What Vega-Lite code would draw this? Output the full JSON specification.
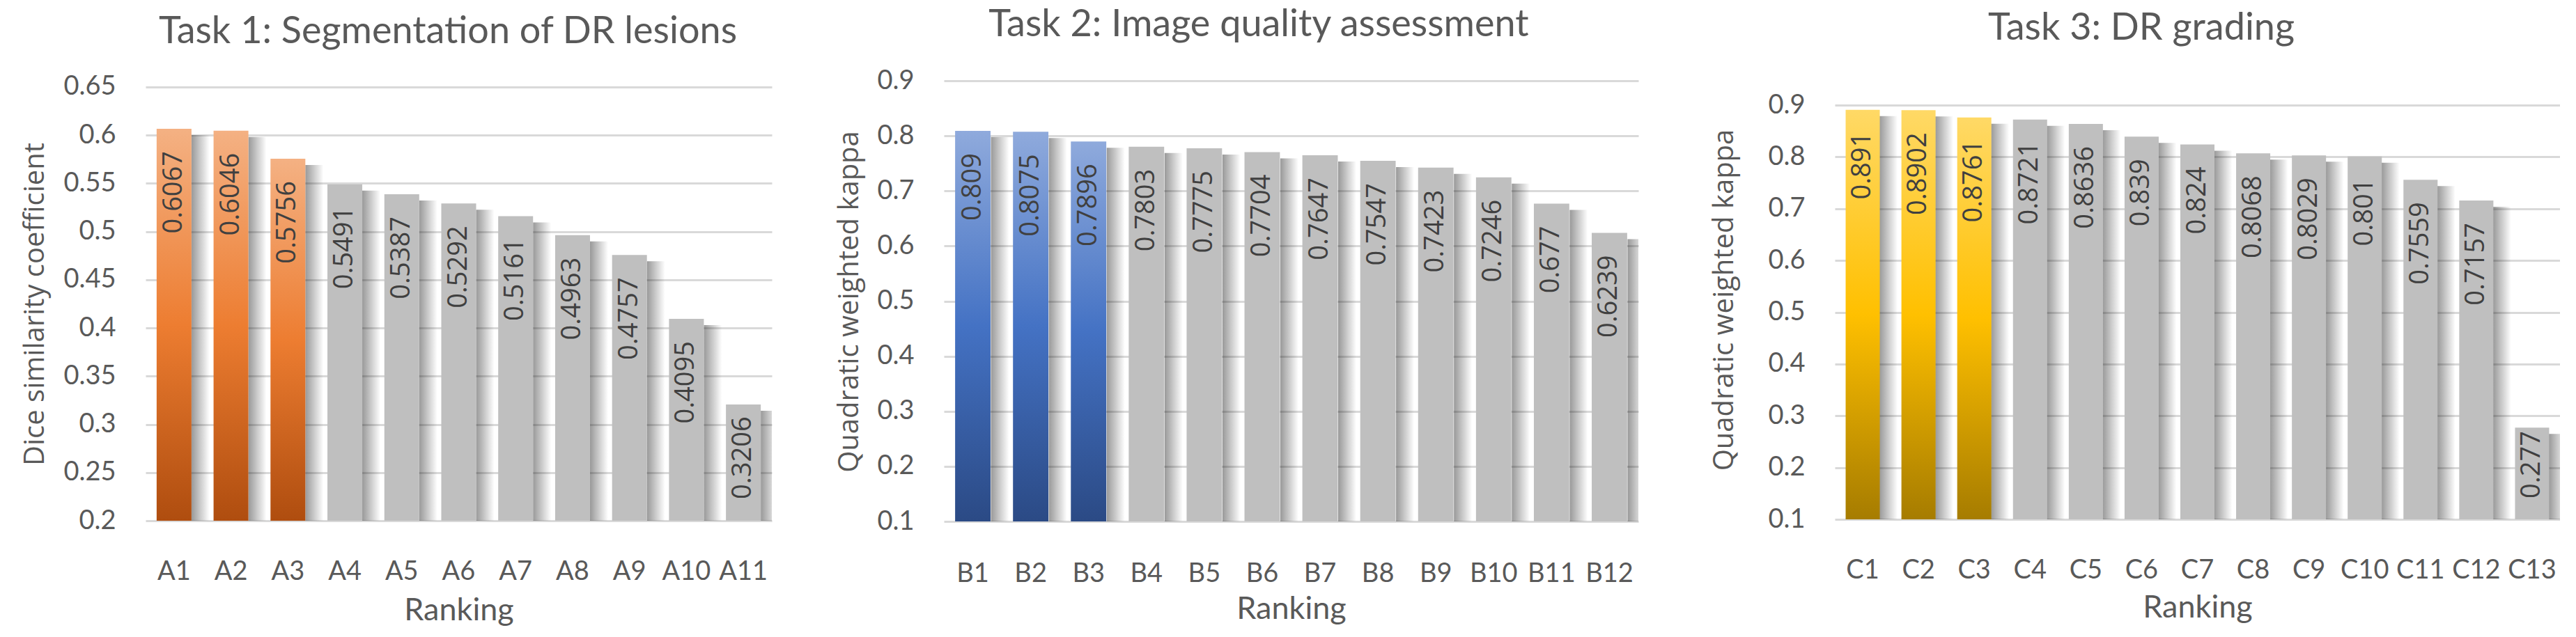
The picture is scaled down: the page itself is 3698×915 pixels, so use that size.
{
  "$schema": "https://vega.github.io/schema/vega-lite/v6.json",
  "background": "white",
  "padding": {"left": 30, "top": 9, "right": 0, "bottom": 0},
  "bounds": "flush",
  "spacing": 0,
  "datasets": {
    "t1": [
      {"team": "A1", "score": 0.6067, "rank": 1},
      {"team": "A2", "score": 0.6046, "rank": 2},
      {"team": "A3", "score": 0.5756, "rank": 3},
      {"team": "A4", "score": 0.5491, "rank": 4},
      {"team": "A5", "score": 0.5387, "rank": 5},
      {"team": "A6", "score": 0.5292, "rank": 6},
      {"team": "A7", "score": 0.5161, "rank": 7},
      {"team": "A8", "score": 0.4963, "rank": 8},
      {"team": "A9", "score": 0.4757, "rank": 9},
      {"team": "A10", "score": 0.4095, "rank": 10},
      {"team": "A11", "score": 0.3206, "rank": 11}
    ],
    "t2": [
      {"team": "B1", "score": 0.809, "rank": 1},
      {"team": "B2", "score": 0.8075, "rank": 2},
      {"team": "B3", "score": 0.7896, "rank": 3},
      {"team": "B4", "score": 0.7803, "rank": 4},
      {"team": "B5", "score": 0.7775, "rank": 5},
      {"team": "B6", "score": 0.7704, "rank": 6},
      {"team": "B7", "score": 0.7647, "rank": 7},
      {"team": "B8", "score": 0.7547, "rank": 8},
      {"team": "B9", "score": 0.7423, "rank": 9},
      {"team": "B10", "score": 0.7246, "rank": 10},
      {"team": "B11", "score": 0.677, "rank": 11},
      {"team": "B12", "score": 0.6239, "rank": 12}
    ],
    "t3": [
      {"team": "C1", "score": 0.891, "rank": 1},
      {"team": "C2", "score": 0.8902, "rank": 2},
      {"team": "C3", "score": 0.8761, "rank": 3},
      {"team": "C4", "score": 0.8721, "rank": 4},
      {"team": "C5", "score": 0.8636, "rank": 5},
      {"team": "C6", "score": 0.839, "rank": 6},
      {"team": "C7", "score": 0.824, "rank": 7},
      {"team": "C8", "score": 0.8068, "rank": 8},
      {"team": "C9", "score": 0.8029, "rank": 9},
      {"team": "C10", "score": 0.801, "rank": 10},
      {"team": "C11", "score": 0.7559, "rank": 11},
      {"team": "C12", "score": 0.7157, "rank": 12},
      {"team": "C13", "score": 0.277, "rank": 13}
    ]
  },
  "hconcat": [
    {
      "width": 899,
      "height": 633,
      "title": {"text": "Task 1: Segmentation of DR lesions", "anchor": "middle", "frame": "group", "dx": -15.5, "baseline": "alphabetic", "offset": -10},
      "data": {"name": "t1"},
      "encoding": {
        "x": {"field": "team", "type": "nominal", "sort": null,
              "scale": {"paddingInner": 0.388, "paddingOuter": 0.194},
              "axis": {"title": "Ranking", "labelPadding": 83, "titleY": 141}},
        "y": {"field": "score", "type": "quantitative",
              "scale": {"domain": [0.19928, 0.6565], "nice": false, "zero": false},
              "axis": {"title": "Dice similarity coefficient", "format": "~g",
                       "values": [0.2, 0.25, 0.3, 0.35, 0.4, 0.45, 0.5, 0.55, 0.6, 0.65],
                       "titleX": -147, "titleY": 320.5}}
      },
      "layer": [
        {"mark": {"type": "bar", "width": 26, "xOffset": 38, "yOffset": 9, "clip": true,
                  "color": {"gradient": "linear", "x1": 0, "y1": 0, "x2": 1, "y2": 0,
                            "stops": [{"offset": 0, "color": "rgba(0,0,0,0.4)"}, {"offset": 1, "color": "rgba(0,0,0,0)"}]}},
         "encoding": {"y2": {"datum": 0.2}}},
        {"transform": [{"filter": "datum.rank <= 3"}],
         "mark": {"type": "bar",
                  "color": {"gradient": "linear", "x1": 0, "y1": 0, "x2": 0, "y2": 1,
                            "stops": [{"offset": 0, "color": "#F4B183"}, {"offset": 0.5, "color": "#ED7D31"}, {"offset": 1, "color": "#AF4D0F"}]}},
         "encoding": {"y2": {"datum": 0.2}}},
        {"transform": [{"filter": "datum.rank > 3"}],
         "mark": {"type": "bar", "color": "#BFBFBF"},
         "encoding": {"y2": {"datum": 0.2}}},
        {"transform": [{"filter": "datum.score >= 0.35"}],
         "mark": {"type": "text", "angle": 270, "align": "right", "baseline": "middle", "dx": -32, "font": "Open Sans", "fontSize": 38, "color": "#404040"},
         "encoding": {"text": {"field": "score", "type": "quantitative", "format": "~g"}}},
        {"transform": [{"filter": "datum.score < 0.35"}],
         "mark": {"type": "text", "angle": 270, "align": "left", "baseline": "middle", "dx": 31, "font": "Open Sans", "fontSize": 38, "color": "#404040"},
         "encoding": {
           "y": {"datum": 0.2, "type": "quantitative",
                 "scale": {"domain": [0.19928, 0.6565], "nice": false, "zero": false},
                 "axis": {"title": "Dice similarity coefficient", "format": "~g",
                          "values": [0.2, 0.25, 0.3, 0.35, 0.4, 0.45, 0.5, 0.55, 0.6, 0.65],
                          "titleX": -147, "titleY": 320.5}},
           "text": {"field": "score", "type": "quantitative", "format": "~g"}}}
      ]
    },
    {
      "width": 247,
      "height": 633,
      "data": {"values": []},
      "mark": "point"
    },
    {
      "width": 997,
      "height": 633,
      "title": {"text": "Task 2: Image quality assessment", "anchor": "middle", "frame": "group", "dx": -46.5, "baseline": "alphabetic", "offset": -9},
      "data": {"name": "t2"},
      "encoding": {
        "x": {"field": "team", "type": "nominal", "sort": null,
              "scale": {"paddingInner": 0.388, "paddingOuter": 0.194},
              "axis": {"title": "Ranking", "labelPadding": 86, "titleY": 139}},
        "y": {"field": "score", "type": "quantitative",
              "scale": {"domain": [0.1, 0.9], "nice": false, "zero": false},
              "axis": {"title": "Quadratic weighted kappa", "format": "~g",
                       "values": [0.1, 0.2, 0.3, 0.4, 0.5, 0.6, 0.7, 0.8, 0.9],
                       "titleX": -124, "titleY": 317}}
      },
      "layer": [
        {"mark": {"type": "bar", "width": 26, "xOffset": 39, "yOffset": 9, "clip": true,
                  "color": {"gradient": "linear", "x1": 0, "y1": 0, "x2": 1, "y2": 0,
                            "stops": [{"offset": 0, "color": "rgba(0,0,0,0.4)"}, {"offset": 1, "color": "rgba(0,0,0,0)"}]}},
         "encoding": {"y2": {"datum": 0.1}}},
        {"transform": [{"filter": "datum.rank <= 3"}],
         "mark": {"type": "bar",
                  "color": {"gradient": "linear", "x1": 0, "y1": 0, "x2": 0, "y2": 1,
                            "stops": [{"offset": 0, "color": "#8FAADC"}, {"offset": 0.5, "color": "#4472C4"}, {"offset": 1, "color": "#2B4A85"}]}},
         "encoding": {"y2": {"datum": 0.1}}},
        {"transform": [{"filter": "datum.rank > 3"}],
         "mark": {"type": "bar", "color": "#BFBFBF"},
         "encoding": {"y2": {"datum": 0.1}}},
        {"mark": {"type": "text", "angle": 270, "align": "right", "baseline": "middle", "dx": -32, "font": "Open Sans", "fontSize": 38, "color": "#404040"},
         "encoding": {"text": {"field": "score", "type": "quantitative", "format": "~g"}}}
      ]
    },
    {
      "width": 282,
      "height": 633,
      "data": {"values": []},
      "mark": "point"
    },
    {
      "width": 1041,
      "height": 633,
      "title": {"text": "Task 3: DR grading", "anchor": "middle", "frame": "group", "dx": -80.5, "baseline": "alphabetic", "offset": 5},
      "data": {"name": "t3"},
      "encoding": {
        "x": {"field": "team", "type": "nominal", "sort": null,
              "scale": {"paddingInner": 0.388, "paddingOuter": 0.194},
              "axis": {"title": "Ranking", "labelPadding": 81, "titleY": 137}},
        "y": {"field": "score", "type": "quantitative",
              "scale": {"domain": [0.09597, 0.94706], "nice": false, "zero": false},
              "axis": {"title": "Quadratic weighted kappa", "format": "~g",
                       "values": [0.1, 0.2, 0.3, 0.4, 0.5, 0.6, 0.7, 0.8, 0.9],
                       "titleX": -147, "titleY": 314.5}}
      },
      "layer": [
        {"mark": {"type": "bar", "width": 26, "xOffset": 37, "yOffset": 9, "clip": true,
                  "color": {"gradient": "linear", "x1": 0, "y1": 0, "x2": 1, "y2": 0,
                            "stops": [{"offset": 0, "color": "rgba(0,0,0,0.4)"}, {"offset": 1, "color": "rgba(0,0,0,0)"}]}},
         "encoding": {"y2": {"datum": 0.1}}},
        {"transform": [{"filter": "datum.rank <= 3"}],
         "mark": {"type": "bar",
                  "color": {"gradient": "linear", "x1": 0, "y1": 0, "x2": 0, "y2": 1,
                            "stops": [{"offset": 0, "color": "#FFD966"}, {"offset": 0.5, "color": "#FFC000"}, {"offset": 1, "color": "#A67C00"}]}},
         "encoding": {"y2": {"datum": 0.1}}},
        {"transform": [{"filter": "datum.rank > 3"}],
         "mark": {"type": "bar", "color": "#BFBFBF"},
         "encoding": {"y2": {"datum": 0.1}}},
        {"transform": [{"filter": "datum.score >= 0.35"}],
         "mark": {"type": "text", "angle": 270, "align": "right", "baseline": "middle", "dx": -32, "font": "Open Sans", "fontSize": 38, "color": "#404040"},
         "encoding": {"text": {"field": "score", "type": "quantitative", "format": "~g"}}},
        {"transform": [{"filter": "datum.score < 0.35"}],
         "mark": {"type": "text", "angle": 270, "align": "left", "baseline": "middle", "dx": 30, "font": "Open Sans", "fontSize": 38, "color": "#404040"},
         "encoding": {
           "y": {"datum": 0.1, "type": "quantitative",
                 "scale": {"domain": [0.09597, 0.94706], "nice": false, "zero": false},
                 "axis": {"title": "Quadratic weighted kappa", "format": "~g",
                          "values": [0.1, 0.2, 0.3, 0.4, 0.5, 0.6, 0.7, 0.8, 0.9],
                          "titleX": -147, "titleY": 314.5}},
           "text": {"field": "score", "type": "quantitative", "format": "~g"}}}
      ]
    }
  ],
  "config": {
    "view": {"stroke": null},
    "font": "Lato",
    "title": {"font": "Lato", "fontSize": 54, "fontWeight": "normal", "color": "#595959"},
    "axis": {"labelFont": "Lato", "labelFontSize": 38, "labelColor": "#595959", "titleColor": "#595959", "titleFontWeight": "normal", "domain": false, "ticks": false, "tickSize": 0, "grid": false},
    "axisX": {"labelAngle": 0, "labelBaseline": "alphabetic", "labelOverlap": false, "titleFont": "Lato", "titleFontSize": 45, "titleBaseline": "alphabetic"},
    "axisY": {"grid": true, "gridColor": "#D9D9D9", "gridWidth": 3, "labelPadding": 43, "labelBaseline": "middle", "labelFlush": false, "labelOverlap": false, "titleFont": "Open Sans", "titleFontSize": 40, "titleAngle": 270, "titleAlign": "center", "titleBaseline": "alphabetic"}
  }
}
